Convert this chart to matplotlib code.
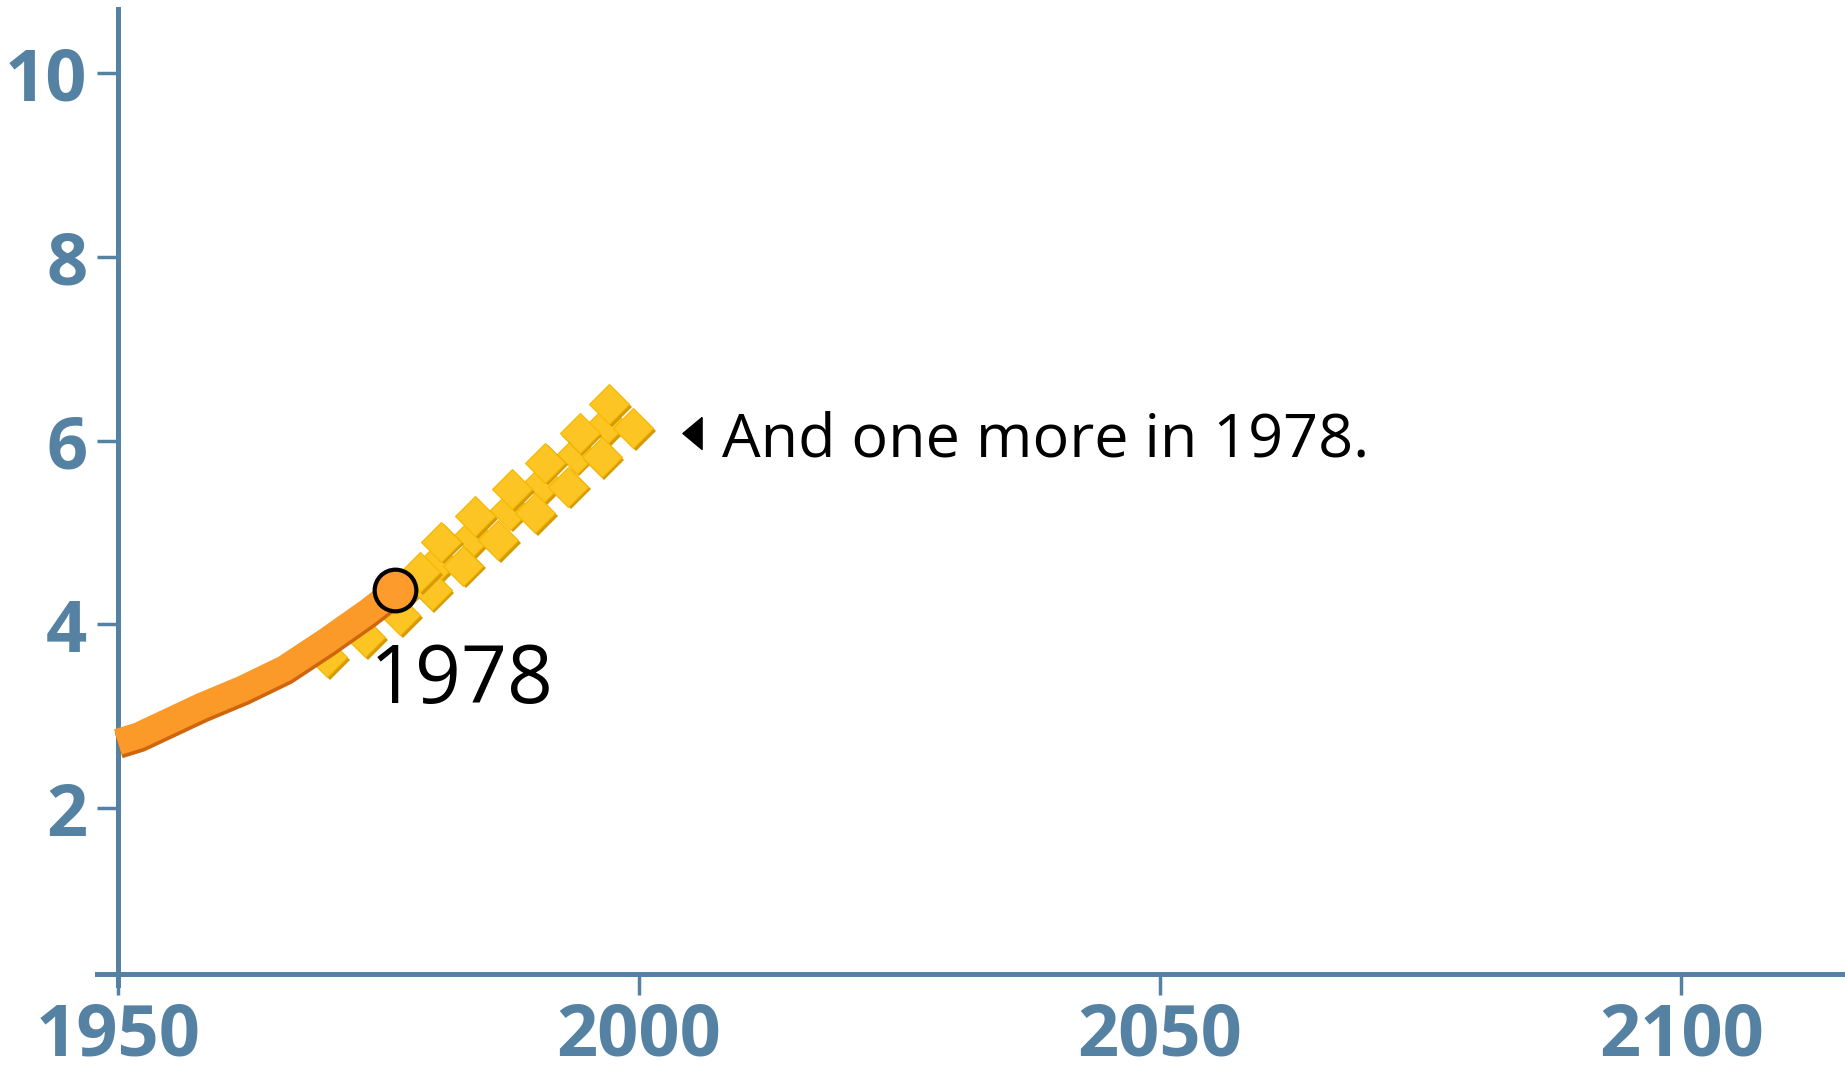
import matplotlib
matplotlib.use("Agg")
import matplotlib.pyplot as plt
import matplotlib.patheffects as pe
from matplotlib.transforms import ScaledTranslation

# orange history line (year, billions)
line_years = [1950, 1952, 1955, 1958, 1962, 1966, 1970, 1974, 1976.6]
line_values = [2.72, 2.79, 2.95, 3.11, 3.30, 3.52, 3.82, 4.14, 4.37]

# yellow "people" clusters: three diamonds each (right, middle, top)
right_years = [1970.1, 1973.7, 1977.1, 1980.1, 1983.1, 1986.5, 1990.0, 1993.2, 1996.4, 1999.4]
right_values = [3.64, 3.86, 4.10, 4.37, 4.64, 4.92, 5.21, 5.50, 5.82, 6.14]
mid_years = [1977.7, 1980.7, 1984.1, 1987.6, 1990.8, 1994.0, 1996.9]
mid_values = [4.41, 4.68, 4.96, 5.25, 5.54, 5.86, 6.18]
top_years = [1979.0, 1981.0, 1984.3, 1987.8, 1991.0, 1994.3, 1997.1]
top_values = [4.57, 4.90, 5.18, 5.47, 5.76, 6.08, 6.40]

highlight_year = 1976.6
highlight_value = 4.37
highlight_label = "1978"
note_text = "And one more in 1978."

x_ticks = [1950, 2000, 2050, 2100]
y_ticks = [2, 4, 6, 8, 10]

axis_color = "#5581a3"

fig = plt.figure(figsize=(18.45, 10.7), dpi=100)
ax = fig.add_axes([0.0526, 0.0794, 0.9474, 0.9122])
ax.set_xlim(1948, 2115.7)
ax.set_ylim(0.073, 10.70)

for s in ["top", "right"]:
    ax.spines[s].set_visible(False)
ax.spines["left"].set_position(("data", 1950))
ax.spines["bottom"].set_position(("data", 0.19))
for s in ["left", "bottom"]:
    ax.spines[s].set_color(axis_color)
    ax.spines[s].set_linewidth(3.6)

ax.set_xticks(x_ticks)
ax.set_yticks(y_ticks)
ax.tick_params(axis="both", colors=axis_color, length=15, width=2.5, pad=7)
ax.tick_params(axis="x", pad=4)
for lab in ax.get_xticklabels() + ax.get_yticklabels():
    lab.set_fontfamily("Open Sans")
    lab.set_fontweight("bold")
    lab.set_fontsize(52)
    lab.set_color(axis_color)

# yellow diamonds with a darker bevel behind, drawn back to front
shift = ax.transData + ScaledTranslation(2/72, -2/72, fig.dpi_scale_trans)
for xs, ys in [(mid_years, mid_values), (right_years, right_values), (top_years, top_values)]:
    ax.plot(xs, ys, linestyle="none", marker="D", markersize=20.5,
            markerfacecolor="#d49a05", markeredgewidth=0, zorder=2,
            transform=shift)
    ax.plot(xs, ys, linestyle="none", marker="D", markersize=20.5,
            markerfacecolor="#fdc524", markeredgecolor="#f4b800",
            markeredgewidth=0.8, zorder=2)

ax.plot(line_years, line_values, color="#fb9a29", linewidth=19,
        solid_capstyle="butt", solid_joinstyle="round", zorder=4,
        path_effects=[pe.SimpleLineShadow(offset=(0.6, -2.6), shadow_color="#cf650c", alpha=1.0),
                      pe.Normal()])

ax.plot([highlight_year], [highlight_value], marker="o", markersize=30,
        markerfacecolor="#fd9b2c", markeredgecolor="black", markeredgewidth=3,
        zorder=6)
ax.text(1974.2, 3.38, highlight_label, fontsize=58, family="Open Sans",
        color="black", ha="left", va="center", zorder=6)

# narrow left-pointing pointer for the note
pointer = [(0.6, 1), (-0.6, 0), (0.6, -1), (0.6, 1)]
ax.plot([2005.1], [6.08], marker=pointer, markersize=23, color="black",
        linestyle="none", zorder=6)
ax.text(2008.0, 6.0, note_text, fontsize=44, family="Open Sans",
        color="black", ha="left", va="center", zorder=6)

fig.savefig("out.png", dpi=100)
